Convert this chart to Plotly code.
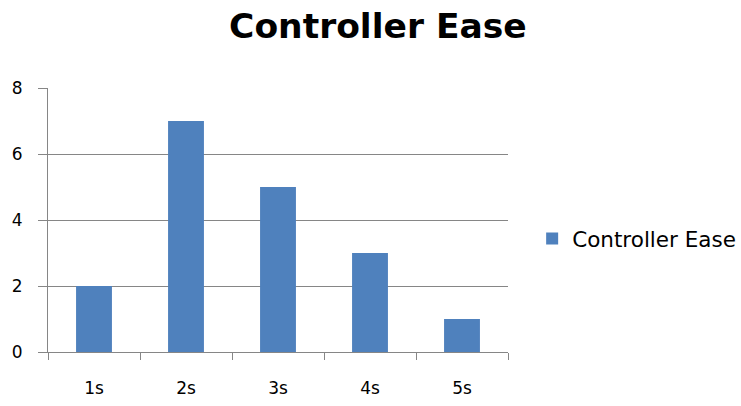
import plotly.graph_objects as go

categories = ["1s", "2s", "3s", "4s", "5s"]
ease_values = [2, 7, 5, 3, 1]
y_ticks = [0, 2, 4, 6, 8]
series_name = "Controller Ease"
chart_title = "Controller Ease"

BAR_BLUE = "#4F81BD"
GRID_GRAY = "#868686"
FONT = "DejaVu Sans, sans-serif"

fig = go.Figure(
    go.Bar(
        x=categories,
        y=ease_values,
        name=series_name,
        marker=dict(color=BAR_BLUE, line=dict(width=0)),
        showlegend=True,
    )
)

fig.update_layout(
    width=741,
    height=406,
    margin=dict(l=48, r=233, t=88, b=54, autoexpand=False),
    paper_bgcolor="white",
    plot_bgcolor="white",
    bargap=0.61,
    font=dict(family=FONT, size=17, color="#000000"),
    title=dict(
        text="<b>" + chart_title + "</b>",
        x=0.51,
        xref="container",
        xanchor="center",
        y=0.935,
        yref="container",
        yanchor="middle",
        font=dict(family=FONT, size=34.5, color="#000000"),
    ),
    legend=dict(
        x=1.0525,
        xanchor="left",
        y=0.43,
        yanchor="middle",
        font=dict(family=FONT, size=21.5, color="#000000"),
        bgcolor="rgba(0,0,0,0)",
    ),
)

fig.update_xaxes(
    type="category",
    showline=True,
    linecolor=GRID_GRAY,
    linewidth=1,
    ticks="outside",
    tickson="boundaries",
    ticklen=7,
    tickcolor=GRID_GRAY,
    showgrid=False,
    tickfont=dict(family=FONT, size=17),
    ticklabelstandoff=21,
)

fig.update_yaxes(
    range=[0, 8],
    tickvals=y_ticks,
    showline=True,
    linecolor=GRID_GRAY,
    linewidth=1,
    ticks="outside",
    ticklen=9,
    tickcolor=GRID_GRAY,
    showgrid=True,
    gridcolor=GRID_GRAY,
    gridwidth=1,
    zeroline=False,
    tickfont=dict(family=FONT, size=17),
    ticklabelstandoff=12,
)

fig.write_html("out.html")
